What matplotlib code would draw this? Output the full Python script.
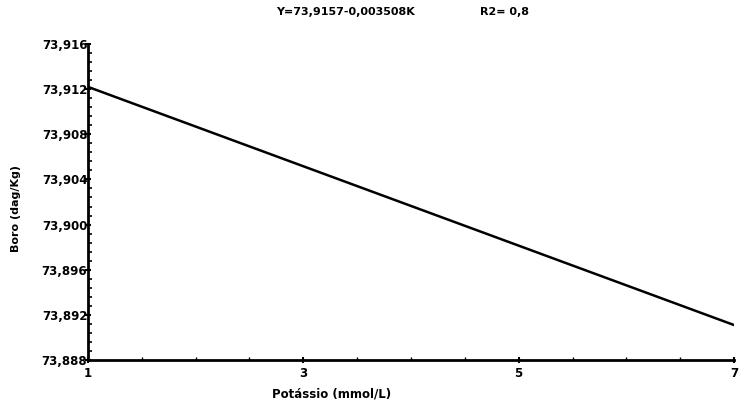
import matplotlib
matplotlib.use("Agg")
import matplotlib.pyplot as plt
from matplotlib.ticker import MultipleLocator, FixedLocator
import numpy as np

# data
potassio = [1, 7]
boro = [73.9122, 73.8911]
xticks = [1, 3, 5, 7]
yticks = [73.888, 73.892, 73.896, 73.900, 73.904, 73.908, 73.912, 73.916]
ytick_labels = ["73,888", "73,892", "73,896", "73,900", "73,904", "73,908", "73,912", "73,916"]
title_eq = "Y=73,9157-0,003508K"
title_r2 = "R2= 0,8"

plt.rcParams['font.family'] = ['DejaVu Sans']
fig = plt.figure(figsize=(7.4, 4.03), dpi=100)
ax = fig.add_axes([88/740, 1-360/403, (734-88)/740, (360-44)/403])

ax.plot(potassio, boro, color='black', lw=1.8, solid_capstyle='round')

ax.set_xlim(1, 7)
ax.set_ylim(73.888, 73.916)
ax.xaxis.set_major_locator(FixedLocator(xticks))
ax.set_xticklabels([str(v) for v in xticks], fontsize=8.5, fontweight='bold')
ax.yaxis.set_major_locator(FixedLocator(yticks))
ax.set_yticklabels(ytick_labels, fontsize=8.5, fontweight='bold')
ax.yaxis.set_minor_locator(MultipleLocator(0.0008))
ax.xaxis.set_minor_locator(MultipleLocator(0.5))

for s in ['top', 'right']:
    ax.spines[s].set_visible(False)
for s in ['left', 'bottom']:
    ax.spines[s].set_linewidth(2.0)

ax.tick_params(axis='y', which='major', direction='inout', length=5, width=1.5, pad=-2)
ax.tick_params(axis='y', which='minor', direction='in', length=3, width=1.2)
ax.tick_params(axis='x', which='major', direction='inout', length=4, width=1.5, pad=3)
ax.tick_params(axis='x', which='minor', direction='in', length=2, width=1.0)

fig.text(345/740, 1-12/403, title_eq, ha='center', va='center', fontsize=8, fontweight='bold')
fig.text(505/740, 1-12/403, title_r2, ha='center', va='center', fontsize=8, fontweight='bold')
fig.text(16/740, 1-208/403, "Boro (dag/Kg)", rotation=90, ha='center', va='center', fontsize=8, fontweight='bold')
fig.text(332/740, 1-394/403, "Potássio (mmol/L)", ha='center', va='center', fontsize=8.5, fontweight='bold')

fig.savefig("out.png", dpi=100)
